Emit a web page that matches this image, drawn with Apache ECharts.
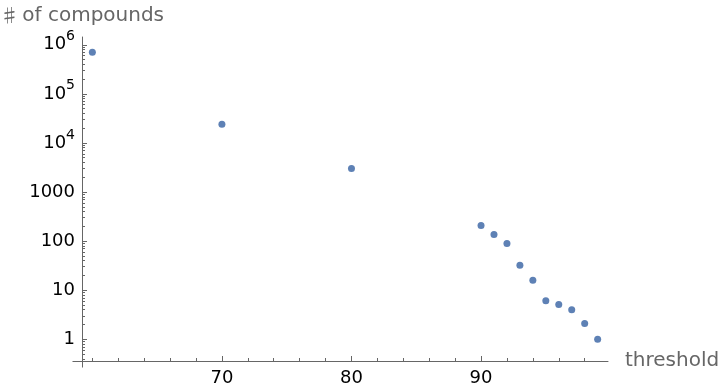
<!DOCTYPE html>
<html>
<head>
<meta charset="utf-8">
<script src="https://cdn.jsdelivr.net/npm/echarts@6/dist/echarts.min.js"></script>
<style>html,body{margin:0;padding:0;background:#fff}#c{width:720px;height:392px}</style>
</head>
<body>
<div id="c"></div>
<script>
var thresholds = [60, 70, 80, 90, 91, 92, 93, 94, 95, 96, 97, 98, 99];
var counts = [700000, 24000, 3000, 208, 136, 89, 32, 16, 6.1, 5.1, 4, 2.08, 1];
var yMajorTicks = [1, 10, 100, 1000, 10000, 100000, 1000000];
var xLabelTicks = [70, 80, 90];
var xMinorTicks = [60, 62, 64, 66, 68, 72, 74, 76, 78, 82, 84, 86, 88, 92, 94, 96, 98];

var xMin = 59.2, xMax = 99.8;
var yMin = 0.36, yMax = 1.44e6;
var yMinorTicks = [];
[0.1, 1, 10, 100, 1000, 10000, 100000, 1000000].forEach(function (d) {
  for (var k = 2; k <= 9; k++) {
    var v = d * k;
    if (v >= yMin && v <= yMax) yMinorTicks.push(v);
  }
});

var FONT = 'DejaVu Sans';
var AX = '#666666';

function yFmt(v) {
  var e = Math.round(Math.log10(v));
  if (e <= 3) return '{b|' + String(Math.round(v)) + '}';
  return '{b|10}{s|' + e + '}';
}

var chart = echarts.init(document.getElementById('c'), null, {renderer: 'canvas'});
chart.setOption({
  animation: false,
  grid: {left: 82, right: 112, top: 37, bottom: 31, containLabel: false, outerBoundsMode: 'none'},
  xAxis: [{
    type: 'value', min: xMin, max: xMax,
    name: 'threshold', nameLocation: 'end', nameGap: 17,
    nameTextStyle: {fontFamily: FONT, fontSize: 20, color: AX},
    axisLine: {show: true, lineStyle: {color: AX, width: 1}},
    axisTick: {show: true, inside: true, length: 5, customValues: xLabelTicks, lineStyle: {color: AX}},
    axisLabel: {show: true, customValues: xLabelTicks, margin: 8, fontFamily: FONT, fontSize: 18, color: '#000'},
    splitLine: {show: false}
  }, {
    type: 'value', min: xMin, max: xMax, position: 'bottom',
    axisLine: {show: false},
    axisTick: {show: true, inside: true, length: 3, customValues: xMinorTicks, lineStyle: {color: AX}},
    axisLabel: {show: false},
    splitLine: {show: false}
  }],
  yAxis: [{
    type: 'log', logBase: 10, min: yMin, max: yMax,
    name: '{sh|♯} {t|of compounds}', nameLocation: 'end', nameGap: 11,
    nameTextStyle: {
      align: 'center',
      rich: {
        sh: {fontFamily: 'Noto Sans CJK SC', fontSize: 19, color: AX},
        t: {fontFamily: FONT, fontSize: 20, color: AX}
      }
    },
    axisLine: {show: true, lineStyle: {color: AX, width: 1}},
    axisTick: {show: true, inside: true, length: 5, customValues: yMajorTicks, lineStyle: {color: AX}},
    axisLabel: {
      show: true, customValues: yMajorTicks, margin: 7, formatter: yFmt,
      rich: {
        b: {fontFamily: FONT, fontSize: 18, color: '#000', lineHeight: 22},
        s: {fontFamily: FONT, fontSize: 14, color: '#000', verticalAlign: 'top', lineHeight: 30}
      }
    },
    splitLine: {show: false}
  }, {
    type: 'log', logBase: 10, min: yMin, max: yMax, position: 'left',
    axisLine: {show: false},
    axisTick: {show: true, inside: true, length: 3, customValues: yMinorTicks, lineStyle: {color: AX}},
    axisLabel: {show: false},
    splitLine: {show: false}
  }],
  series: [{
    type: 'scatter',
    xAxisIndex: 0, yAxisIndex: 0,
    symbol: 'circle', symbolSize: 7,
    itemStyle: {color: '#5E81B5', opacity: 1},
    data: thresholds.map(function (t, i) { return [t, counts[i]]; })
  }]
});

// small overshoot of the axes past their crossing point, as in the reference
var origin = chart.convertToPixel({xAxisIndex: 0, yAxisIndex: 0}, [xMin, yMin]);
var ox = Math.round(origin[0]) + 0.5, oy = Math.round(origin[1]) + 0.5;
chart.setOption({
  graphic: [
    {type: 'line', shape: {x1: ox - 10, y1: oy, x2: ox, y2: oy}, style: {stroke: AX, lineWidth: 1}, silent: true},
    {type: 'line', shape: {x1: ox, y1: oy, x2: ox, y2: oy + 6}, style: {stroke: AX, lineWidth: 1}, silent: true}
  ]
});
</script>
</body>
</html>
